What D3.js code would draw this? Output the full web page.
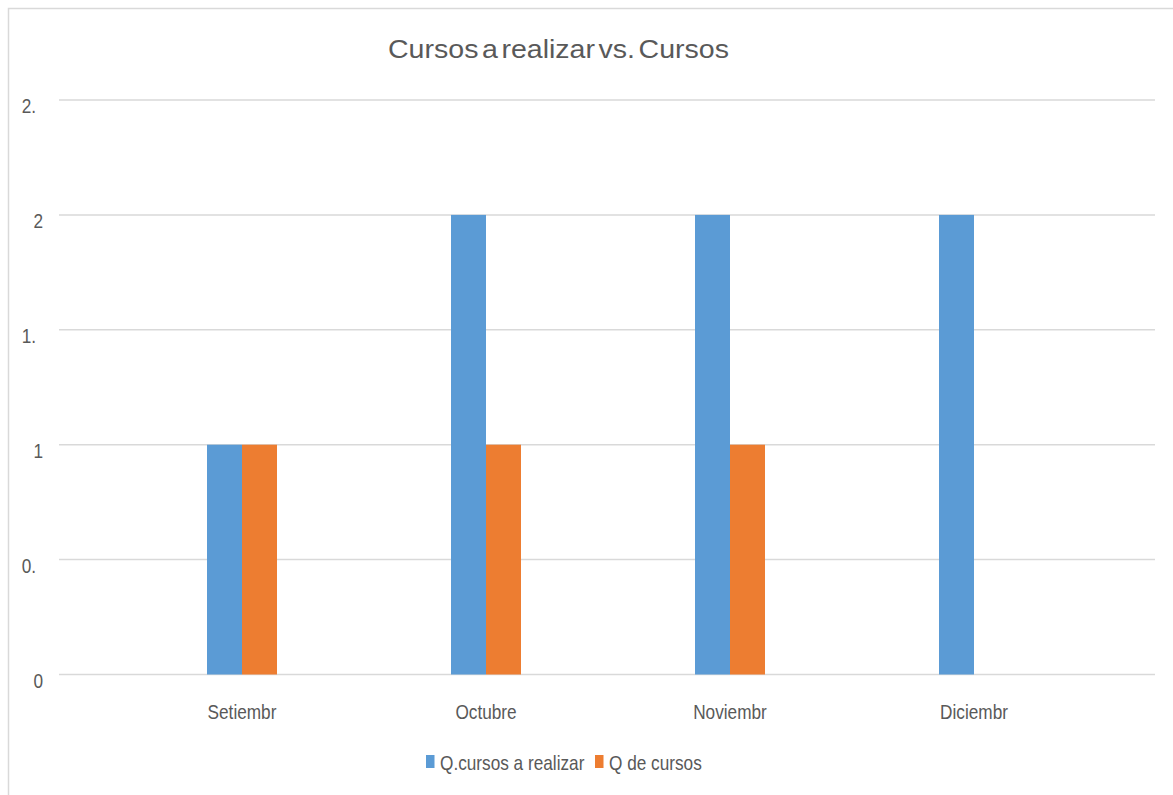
<!DOCTYPE html>
<html>
<head>
<meta charset="utf-8">
<script src="https://cdn.jsdelivr.net/npm/d3@7"></script>
<style>
  html, body { margin: 0; padding: 0; background: #ffffff; }
  svg { display: block; }
</style>
</head>
<body>
<svg id="chart" width="1173" height="795"></svg>
<script>
// ---- data ----
const chartTitle = "Cursos a realizar vs. Cursos";
const categories = ["Setiembr", "Octubre", "Noviembr", "Diciembr"];
const seriesNames = ["Q.cursos a realizar", "Q de cursos"];
const cursosARealizar = [1, 2, 2, 2];
const qDeCursos = [1, 1, 1, 0];
const yTickValues = [0, 0.5, 1, 1.5, 2, 2.5];
const yTickLabels = ["0", "0.", "1", "1.", "2", "2."];
const seriesColors = ["#5B9BD5", "#ED7D31"];

// ---- layout ----
const W = 1173, H = 795;
const font = "'Liberation Sans', Arial, sans-serif";
const narrowScale = 0.82;   // emulate a condensed face
const textColor = "#595959";
const gridColor = "#d9d9d9";

const svg = d3.select("#chart");

// outer frame
svg.append("rect")
  .attr("x", 8.5).attr("y", 8.5)
  .attr("width", W + 50).attr("height", H + 50)
  .attr("fill", "none").attr("stroke", gridColor).attr("stroke-width", 1.5);

const y = d3.scaleLinear().domain([0, 2.5]).range([674.5, 100]);
const x0 = d3.scaleBand().domain(categories).range([120, 1096]).padding(0);
const groupW = 70;
const x1 = d3.scaleBand().domain(seriesNames)
  .range([(x0.bandwidth() - groupW) / 2, (x0.bandwidth() + groupW) / 2]);

const gridX0 = 59, gridX1 = 1155;

// gridlines
svg.append("g").selectAll("line").data(yTickValues).join("line")
  .attr("x1", gridX0).attr("x2", gridX1)
  .attr("y1", d => y(d)).attr("y2", d => y(d))
  .attr("stroke", gridColor).attr("stroke-width", 1.5);

function narrowText(sel) {
  return sel.attr("font-family", font).attr("font-size", 21).attr("fill", textColor);
}

// y tick labels (truncated as in the original)
narrowText(svg.append("g").selectAll("text").data(yTickValues).join("text")
  .attr("transform", (d, i) =>
    `translate(${yTickLabels[i].endsWith(".") ? 36 : 43},${y(d) + 13}) scale(${narrowScale},1)`)
  .attr("text-anchor", "end")
  .text((d, i) => yTickLabels[i]));

// bars
const rows = categories.map((c, i) => ({ cat: c, vals: [cursosARealizar[i], qDeCursos[i]] }));
const groups = svg.append("g").selectAll("g").data(rows).join("g")
  .attr("transform", d => `translate(${x0(d.cat)},0)`);
groups.selectAll("rect")
  .data(d => d.vals.map((v, j) => ({ series: seriesNames[j], v, j })))
  .join("rect")
  .attr("x", d => x1(d.series))
  .attr("width", x1.bandwidth())
  .attr("y", d => y(d.v))
  .attr("height", d => y(0) - y(d.v))
  .attr("fill", d => seriesColors[d.j]);

// x axis labels
narrowText(svg.append("g").selectAll("text").data(categories).join("text")
  .attr("transform", d => `translate(${x0(d) + x0.bandwidth() / 2},718.5) scale(${narrowScale},1)`)
  .attr("text-anchor", "middle")
  .text(d => d));

// title
svg.append("text")
  .attr("x", 558.5).attr("y", 57.5)
  .attr("text-anchor", "middle")
  .attr("font-family", font).attr("font-size", 26)
  .attr("word-spacing", -4)
  .attr("textLength", 341).attr("lengthAdjust", "spacingAndGlyphs")
  .attr("fill", textColor)
  .text(chartTitle);

// legend
const legendItems = [
  { name: seriesNames[0], color: seriesColors[0], x: 426 },
  { name: seriesNames[1], color: seriesColors[1], x: 595 }
];
const lg = svg.append("g").selectAll("g").data(legendItems).join("g")
  .attr("transform", d => `translate(${d.x},0)`);
lg.append("rect").attr("x", 0).attr("y", 755).attr("width", 8.5).attr("height", 13)
  .attr("fill", d => d.color);
narrowText(lg.append("text")
  .attr("transform", `translate(14,770) scale(${narrowScale},1)`)
  .text(d => d.name));
</script>
</body>
</html>
